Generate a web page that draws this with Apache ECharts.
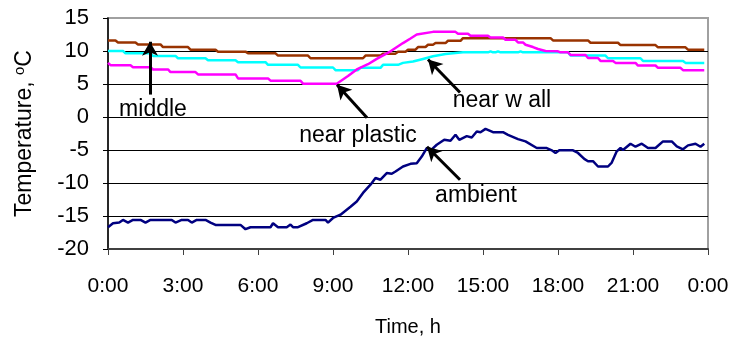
<!DOCTYPE html>
<html>
<head>
<meta charset="utf-8">
<script src="https://cdn.jsdelivr.net/npm/echarts@6/dist/echarts.min.js"></script>
<style>
  html, body { margin: 0; padding: 0; background: #fff; }
  #chart { width: 735px; height: 345px; }
</style>
</head>
<body>
<div id="chart"></div>
<script>
// x axis: hours from midnight, labelled every 3 h
const hourTicks = [0, 3, 6, 9, 12, 15, 18, 21, 24];
const tempTicks = [-20, -15, -10, -5, 0, 5, 10, 15];

// [hour, °C]
const middle = [
  [0, 11.6], [0.3, 11.6], [0.4, 11.3], [1.1, 11.3], [1.2, 11.0], [2.1, 11.0],
  [2.2, 10.6], [3.2, 10.6], [3.3, 10.2], [4.3, 10.2], [4.4, 9.9], [5.5, 9.9],
  [5.6, 9.65], [6.7, 9.65], [6.8, 9.3], [8.0, 9.3], [8.1, 8.9], [10.2, 8.9],
  [10.3, 9.3], [10.9, 9.3], [11.0, 9.6], [11.5, 9.6], [11.6, 9.9], [11.9, 9.9],
  [12.0, 10.2], [12.3, 10.2], [12.4, 10.6], [12.7, 10.6], [12.8, 10.95], [13.0, 10.95],
  [13.1, 11.2], [13.5, 11.2], [13.6, 11.55], [14.1, 11.55], [14.2, 11.95], [17.7, 11.95],
  [17.8, 11.6], [19.2, 11.6], [19.3, 11.25], [20.4, 11.25], [20.5, 10.9], [21.9, 10.9],
  [22.0, 10.55], [23.1, 10.55], [23.2, 10.2], [23.85, 10.2]
];

const nearWall = [
  [0, 10.0], [0.6, 10.0], [0.7, 9.65], [1.7, 9.65], [1.8, 9.25], [2.7, 9.25],
  [2.8, 8.9], [3.9, 8.9], [4.0, 8.6], [5.1, 8.6], [5.2, 8.3], [6.3, 8.3],
  [6.4, 7.9], [7.6, 7.9], [7.7, 7.5], [9.0, 7.5], [9.1, 7.1], [10.0, 7.1],
  [10.1, 7.45], [10.9, 7.45], [11.0, 7.9], [11.6, 7.9], [11.8, 8.2], [12.2, 8.4],
  [12.6, 8.8], [13.0, 9.2], [13.5, 9.55], [14.2, 9.8], [15.2, 9.8], [15.3, 9.95],
  [15.4, 9.8], [15.5, 9.8], [15.6, 9.95], [15.7, 9.8], [16.4, 9.8], [16.5, 9.95],
  [16.6, 9.8], [18.4, 9.8], [18.5, 9.3], [19.9, 9.3], [20.0, 8.9], [21.3, 8.9],
  [21.4, 8.5], [23.0, 8.5], [23.1, 8.2], [23.85, 8.2]
];

const nearPlastic = [
  [0, 8.2], [0.1, 7.85], [0.9, 7.85], [1.0, 7.55], [1.7, 7.55], [1.8, 7.2],
  [2.4, 7.2], [2.5, 6.8], [3.5, 6.8], [3.6, 6.45], [5.1, 6.45], [5.2, 5.85],
  [6.4, 5.85], [6.5, 5.5], [7.7, 5.5], [7.8, 5.05], [9.15, 5.05], [9.6, 6.2],
  [9.95, 7.2], [10.4, 8.0], [10.75, 8.8], [11.3, 9.95], [11.8, 11.2], [12.1, 11.9],
  [12.35, 12.5], [13.0, 12.9], [13.9, 12.9], [14.0, 12.6], [14.4, 12.6], [14.5, 12.3],
  [15.2, 12.3], [15.3, 12.05], [15.8, 12.05], [15.9, 11.7], [16.3, 11.7], [16.4, 11.3],
  [16.6, 11.3], [16.7, 10.95], [17.0, 10.6], [17.2, 10.3], [17.5, 10.0], [18.0, 9.95],
  [18.1, 9.8], [18.4, 9.8], [18.5, 9.4], [19.1, 9.4], [19.2, 8.95], [19.6, 8.95],
  [19.7, 8.5], [20.2, 8.5], [20.3, 8.2], [21.1, 8.2], [21.2, 7.8], [21.9, 7.8],
  [22.0, 7.45], [22.9, 7.45], [23.0, 7.1], [23.85, 7.1]
];

const ambient = [
  [0, -16.7], [0.2, -16.1], [0.45, -16.0], [0.6, -15.6], [0.8, -16.0], [1.0, -15.6],
  [1.3, -15.6], [1.5, -16.0], [1.7, -15.6], [2.55, -15.6], [2.7, -16.0], [2.95, -15.6],
  [3.2, -15.6], [3.35, -16.0], [3.55, -15.6], [3.9, -15.6], [4.1, -16.0], [4.3, -16.35],
  [5.3, -16.35], [5.5, -17.0], [5.7, -16.7], [6.5, -16.7], [6.6, -16.1], [6.8, -16.7],
  [7.15, -16.7], [7.3, -16.3], [7.4, -16.7], [7.6, -16.7], [7.95, -16.1], [8.2, -15.6],
  [8.7, -15.6], [8.8, -16.0], [9.0, -15.3], [9.3, -14.8], [9.7, -13.6], [9.95, -12.8],
  [10.2, -11.5], [10.5, -10.25], [10.7, -9.25], [10.9, -9.5], [11.15, -8.5], [11.35, -8.6],
  [11.5, -8.25], [11.8, -7.5], [12.1, -7.1], [12.35, -7.0], [12.55, -6.0], [12.75, -4.7],
  [12.95, -4.9], [13.15, -4.2], [13.45, -3.45], [13.7, -3.6], [13.9, -2.7], [14.05, -3.45],
  [14.35, -2.9], [14.55, -3.1], [14.75, -2.2], [14.9, -2.3], [15.1, -1.8], [15.4, -2.3],
  [15.8, -2.3], [16.0, -2.7], [16.4, -3.35], [16.7, -3.7], [17.15, -4.7], [17.55, -4.7],
  [17.75, -5.05], [17.9, -5.45], [18.05, -5.05], [18.6, -5.05], [18.8, -5.45], [19.05, -6.35],
  [19.2, -6.7], [19.4, -6.7], [19.6, -7.5], [20.0, -7.5], [20.15, -6.9], [20.35, -5.2],
  [20.5, -4.7], [20.6, -5.0], [20.9, -4.05], [21.1, -4.5], [21.35, -4.05], [21.6, -4.7],
  [21.9, -4.7], [22.2, -3.7], [22.55, -3.7], [22.75, -4.45], [23.0, -4.9], [23.2, -4.3],
  [23.5, -4.05], [23.7, -4.5], [23.85, -4.05]
];

// annotation labels and arrows (tail -> head), in hour / °C
const noteNames = ['middle', 'near plastic', 'near w all', 'ambient'];
const noteTextAt = [[1.8, 1.1], [10.0, -2.85], [15.76, 2.5], [14.72, -11.9]];
const noteArrowFrom = [[1.68, 3.4], [10.36, -0.1], [14.08, 3.7], [14.08, -9.5]];
const noteArrowTo = [[1.68, 11.4], [9.16, 4.9], [12.8, 8.7], [12.76, -4.5]];

const FONT = 'Liberation Sans, Arial, sans-serif';

const chart = echarts.init(document.getElementById('chart'), null, { renderer: 'canvas' });

function lineSeries(name, data, color, noteIdx) {
  return {
    name: name,
    type: 'line',
    data: data,
    showSymbol: false,
    symbol: 'none',
    lineStyle: { color: color, width: 2.5 },
    itemStyle: { color: color },
    z: 3,
    markLine: {
      silent: true,
      symbol: ['none', 'arrow'],
      symbolSize: [12, 14],
      lineStyle: { color: '#000', width: 3, type: 'solid' },
      label: { show: false },
      data: [[{ coord: noteArrowFrom[noteIdx] }, { coord: noteArrowTo[noteIdx] }]]
    },
    markPoint: {
      silent: true,
      symbol: 'rect',
      symbolSize: 1,
      itemStyle: { color: 'transparent' },
      label: {
        show: true,
        position: 'inside',
        color: '#000',
        fontSize: 23,
        fontFamily: FONT,
        formatter: noteNames[noteIdx]
      },
      data: [{ coord: noteTextAt[noteIdx] }]
    }
  };
}

const option = {
  animation: false,
  backgroundColor: '#fff',
  textStyle: { fontFamily: FONT },
  grid: {
    left: 108, right: 27, top: 18, bottom: 96,
    show: true, borderColor: '#a0a0a0', borderWidth: 2, backgroundColor: '#fff'
  },
  xAxis: {
    type: 'value',
    min: hourTicks[0],
    max: hourTicks[hourTicks.length - 1],
    interval: 3,
    name: 'Time, h',
    nameLocation: 'middle',
    nameGap: 68,
    nameTextStyle: { color: '#000', fontSize: 20, fontFamily: FONT },
    axisLine: { onZero: false, lineStyle: { color: '#404040', width: 2 } },
    axisTick: { show: true, length: 6, lineStyle: { color: '#404040', width: 1 } },
    axisLabel: {
      color: '#000', fontSize: 21, fontFamily: FONT, margin: 27,
      formatter: v => (v % 24) + ':00'
    },
    splitLine: { show: false }
  },
  yAxis: {
    type: 'value',
    min: tempTicks[0],
    max: tempTicks[tempTicks.length - 1],
    interval: 5,
    name: 'Temperature, {s|o}C',
    nameLocation: 'middle',
    nameGap: 71,
    nameRotate: 90,
    nameTextStyle: {
      color: '#000', fontSize: 23, fontFamily: FONT,
      rich: { s: { fontSize: 15, fontFamily: FONT, color: '#000', padding: [0, 0, 10, 0] } }
    },
    axisLine: { show: true, lineStyle: { color: '#000', width: 1.5 } },
    axisTick: { show: true, length: 5, lineStyle: { color: '#000' } },
    axisLabel: { color: '#000', fontSize: 22, fontFamily: FONT, margin: 19 },
    splitLine: {
      show: true,
      lineStyle: { color: ['#404040', '#000', '#000', '#000', '#000', '#000', '#000', '#a0a0a0'], width: 1 }
    }
  },
  series: [
    lineSeries('middle', middle, '#993300', 0),
    lineSeries('near wall', nearWall, '#00FFFF', 2),
    lineSeries('near plastic', nearPlastic, '#FF00FF', 1),
    lineSeries('ambient', ambient, '#000080', 3)
  ]
};

chart.setOption(option);
</script>
</body>
</html>
